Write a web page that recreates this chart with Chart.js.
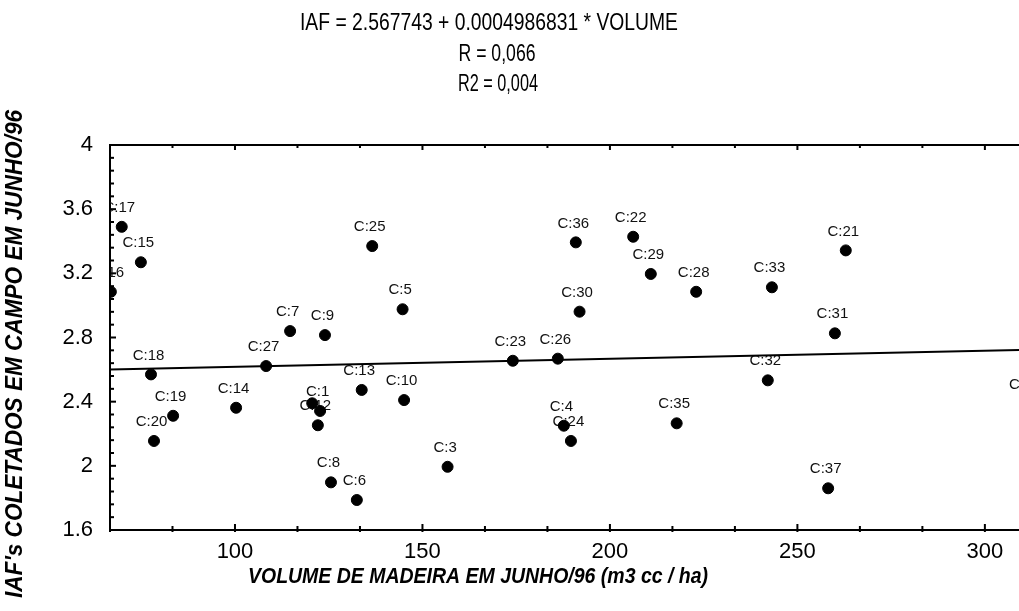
<!DOCTYPE html>
<html>
<head>
<meta charset="utf-8">
<script src="https://cdn.jsdelivr.net/npm/chart.js@4.4.1/dist/chart.umd.min.js"></script>
<style>
html, body { margin: 0; padding: 0; background: #fff; overflow: hidden; }
#wrap { width: 1019px; height: 611px; position: relative; }
</style>
</head>
<body>
<div id="wrap"><canvas id="grafico"></canvas></div>
<script>
// valores (IAF x volume de madeira)
var rotulos = ['C:1', '', 'C:3', 'C:4', 'C:5', 'C:6', 'C:7', 'C:8', 'C:9', 'C:10',
               'C:12', 'C:13', 'C:14', 'C:15', 'C:16', 'C:17', 'C:18', 'C:19', 'C:20',
               'C:21', 'C:22', 'C:23', 'C:24', 'C:25', 'C:26', 'C:27', 'C:28', 'C:29',
               'C:30', 'C:31', 'C:32', 'C:33', 'C:34', 'C:35', 'C:36', 'C:37'];
var volume = [122.7, 120.6, 156.7, 187.7, 144.7, 132.5, 114.7, 125.6, 124.0, 145.1,
              122.1, 133.8, 100.3, 74.9, 66.9, 69.8, 77.6, 83.5, 78.4,
              262.9, 206.2, 174.1, 189.6, 136.6, 186.1, 108.3, 223.0, 210.9,
              191.9, 260.0, 242.1, 243.2, 311.3, 217.8, 190.9, 258.2];
var iaf = [2.342, 2.390, 1.994, 2.250, 2.976, 1.787, 2.840, 1.897, 2.815, 2.410,
           2.253, 2.473, 2.362, 3.269, 3.085, 3.490, 2.570, 2.312, 2.155,
           3.343, 3.428, 2.655, 2.155, 3.370, 2.668, 2.622, 3.085, 3.196,
           2.961, 2.826, 2.533, 3.113, 2.385, 2.265, 3.393, 1.860];

var xTicks = [100, 150, 200, 250, 300];
var yTicks = [4, 3.6, 3.2, 2.8, 2.4, 2, 1.6];

// reta de regressão (coeficientes do título)
var intercepto = 2.567743;
var inclinacao = 0.0004986831;

var titulos = ['IAF = 2.567743 + 0.0004986831 * VOLUME', 'R = 0,066', 'R2 = 0,004'];
var tituloX = 'VOLUME DE MADEIRA EM JUNHO/96 (m3 cc / ha)';
var tituloY = "IAF's COLETADOS EM CAMPO EM JUNHO/96";

var xMin = 200 / 3, xMax = 309.1, yMin = 1.6, yMax = 4;

var pontos = volume.map(function (v, i) { return { x: v, y: iaf[i] }; });
var reta = [xMin, 340].map(function (v) { return { x: v, y: intercepto + inclinacao * v }; });

var fonte = "'Liberation Sans', Arial, sans-serif";

// moldura, marcas internas, rótulos dos pontos e títulos
var desenhos = {
    id: 'desenhos',
    beforeDatasetsDraw: function (chart) {
        var ctx = chart.ctx, a = chart.chartArea;
        var xs = chart.scales.x, ys = chart.scales.y;
        ctx.save();
        ctx.strokeStyle = '#000';
        ctx.lineWidth = 2;
        ctx.beginPath();
        ctx.moveTo(a.left - 1, a.top);
        ctx.lineTo(chart.width, a.top);
        ctx.stroke();

        // marcas no eixo x (embaixo e em cima)
        for (var k = 4; k <= 18; k++) {
            var px = xs.getPixelForValue(k * 50 / 3);
            var tam = (k % 3 === 0) ? 6 : 4;
            ctx.beginPath();
            ctx.moveTo(px, a.bottom + 2);
            ctx.lineTo(px, a.bottom - tam);
            ctx.moveTo(px, a.top - 1);
            ctx.lineTo(px, a.top + tam - 1);
            ctx.stroke();
        }
        // marcas no eixo y
        for (var j = 0; j <= 30; j++) {
            var py = ys.getPixelForValue(yMin + j * 0.08);
            var t = (j % 5 === 0) ? 6 : 4;
            ctx.beginPath();
            ctx.moveTo(a.left - 1, py);
            ctx.lineTo(a.left + t, py);
            ctx.stroke();
        }

        // rótulos dos casos
        ctx.beginPath();
        ctx.rect(a.left, a.top, chart.width - a.left, a.bottom - a.top);
        ctx.clip();
        ctx.fillStyle = '#111';
        ctx.font = '15px ' + fonte;
        ctx.textAlign = 'center';
        ctx.textBaseline = 'middle';
        var meta = chart.getDatasetMeta(0);
        meta.data.forEach(function (p, i) {
            if (rotulos[i]) ctx.fillText(rotulos[i], p.x - 2.5, p.y - 19);
        });
        ctx.restore();
    },
    afterDraw: function (chart) {
        var ctx = chart.ctx;
        ctx.save();
        ctx.fillStyle = '#000';
        ctx.textAlign = 'center';
        ctx.textBaseline = 'middle';
        ctx.font = '24px ' + fonte;
        ctx.fillText(titulos[0], 489, 23, 378);
        ctx.fillText(titulos[1], 497, 54, 77);
        ctx.fillText(titulos[2], 498, 84, 80);

        ctx.font = 'italic bold 22px ' + fonte;
        ctx.fillText(tituloX, 478, 577, 460);

        ctx.translate(15, 354);
        ctx.rotate(-Math.PI / 2);
        ctx.font = 'italic bold 24px ' + fonte;
        ctx.fillText(tituloY, 0, 0, 488);
        ctx.restore();
    }
};

new Chart(document.getElementById('grafico'), {
    type: 'scatter',
    data: {
        datasets: [{
            label: 'casos',
            data: pontos,
            backgroundColor: '#000',
            borderColor: '#000',
            pointRadius: 5.5,
            pointHoverRadius: 5.5,
            clip: { left: 0, top: 0, right: false, bottom: 0 }
        }, {
            type: 'line',
            label: 'regressão',
            data: reta,
            borderColor: '#000',
            borderWidth: 2,
            pointRadius: 0,
            fill: false,
            clip: { left: 0, top: 0, right: false, bottom: 0 }
        }]
    },
    options: {
        responsive: true,
        maintainAspectRatio: false,
        animation: false,
        events: [],
        layout: { autoPadding: false, padding: { top: 145, right: 0, bottom: 0, left: 0 } },
        plugins: { legend: { display: false }, tooltip: { enabled: false }, title: { display: false } },
        scales: {
            x: {
                type: 'linear',
                min: xMin,
                max: xMax,
                afterBuildTicks: function (s) { s.ticks = xTicks.map(function (v) { return { value: v }; }); },
                afterFit: function (s) { s.height = 81; },
                grid: { display: true, drawOnChartArea: false, drawTicks: false },
                border: { display: true, color: '#000', width: 2 },
                ticks: { color: '#000', font: { family: fonte, size: 22 }, padding: 9, maxRotation: 0 }
            },
            y: {
                type: 'linear',
                min: yMin,
                max: yMax,
                afterBuildTicks: function (s) { s.ticks = yTicks.map(function (v) { return { value: v }; }); },
                afterFit: function (s) { s.width = 110; },
                grid: { display: true, drawOnChartArea: false, drawTicks: false },
                border: { display: true, color: '#000', width: 2 },
                ticks: {
                    color: '#000', font: { family: fonte, size: 22 }, padding: 17,
                    callback: function (v) { return String(+v.toFixed(1)); }
                }
            }
        }
    },
    plugins: [desenhos]
});
</script>
</body>
</html>
